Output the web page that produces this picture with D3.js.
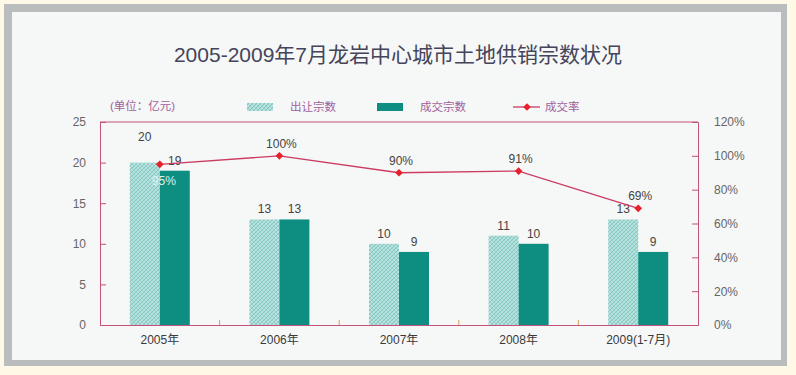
<!DOCTYPE html>
<html>
<head>
<meta charset="utf-8">
<script src="https://cdn.jsdelivr.net/npm/d3@7"></script>
<style>
  body { margin: 0; background: #fdf9e6; }
  svg text { font-family: "Liberation Sans", "Noto Sans CJK SC", sans-serif; }
</style>
</head>
<body>
<svg id="chart" width="796" height="375"></svg>
<script>
// data
var years = ["2005年", "2006年", "2007年", "2008年", "2009(1-7月)"];
var supplied = [20, 13, 10, 11, 13];   // 出让宗数
var sold = [19, 13, 9, 10, 9];         // 成交宗数
var rate = [95, 100, 90, 91, 69];      // 成交率 %
var leftTicks = [0, 5, 10, 15, 20, 25];
var rightTicks = [0, 20, 40, 60, 80, 100, 120];

var svg = d3.select("#chart");
var axisColor = "#c4527c";

// frame
svg.append("rect").attr("x", 4).attr("y", 4).attr("width", 783).attr("height", 362).attr("fill", "#b9bdbd");
svg.append("rect").attr("x", 12).attr("y", 12).attr("width", 769).attr("height", 348).attr("fill", "#f6f7f7");

svg.append("text")
  .attr("x", 398).attr("y", 62)
  .attr("text-anchor", "middle")
  .attr("font-size", 21)
  .attr("fill", "#44445a")
  .text("2005-2009年7月龙岩中心城市土地供销宗数状况");

// hatch pattern for the light bars
var defs = svg.append("defs");
var pat = defs.append("pattern").attr("id", "hatch")
  .attr("width", 4).attr("height", 4).attr("patternUnits", "userSpaceOnUse");
pat.append("rect").attr("width", 4).attr("height", 4).attr("fill", "#b9e2df");
pat.append("path").attr("d", "M0,4 L4,0 M-1,1 L1,-1 M3,5 L5,3").attr("stroke", "#7fc6c1").attr("stroke-width", 1);
pat.append("path").attr("d", "M0,0 L4,4").attr("stroke", "#93d0cb").attr("stroke-width", 0.7);

var pLeft = 100, pRight = 698, pTop = 122, pBottom = 325;

var x = d3.scaleBand().domain(years).range([pLeft, pRight]);
var xs = d3.scaleBand().domain(["supplied", "sold"]).range([0, 60]);
var y = d3.scaleLinear().domain([0, 25]).range([pBottom, pTop]);
var y2 = d3.scaleLinear().domain([0, 120]).range([pBottom, pTop]);

// bars
var g = svg.append("g");
years.forEach(function(yr, i) {
  var cx = x(yr) + x.bandwidth() / 2 - 30;
  g.append("rect")
    .attr("x", cx + xs("supplied")).attr("y", y(supplied[i]))
    .attr("width", xs.bandwidth()).attr("height", pBottom - y(supplied[i]))
    .attr("fill", "url(#hatch)");
  g.append("rect")
    .attr("x", cx + xs("sold")).attr("y", y(sold[i]))
    .attr("width", xs.bandwidth()).attr("height", pBottom - y(sold[i]))
    .attr("fill", "#0e8e80");
  g.append("text")
    .attr("x", cx + xs("supplied") + xs.bandwidth() / 2)
    .attr("y", y(supplied[i]) - (i == 0 ? 22 : 6))
    .attr("text-anchor", "middle").attr("font-size", 12).attr("fill", "#444")
    .text(supplied[i]);
  g.append("text")
    .attr("x", cx + xs("sold") + xs.bandwidth() / 2)
    .attr("y", y(sold[i]) - 6)
    .attr("text-anchor", "middle").attr("font-size", 12).attr("fill", "#444")
    .text(sold[i]);
});

// axes
var axL = svg.append("g").attr("transform", "translate(" + pLeft + ",0)")
  .call(d3.axisLeft(y).tickValues(leftTicks).tickSize(-6).tickPadding(14));
var axR = svg.append("g").attr("transform", "translate(" + pRight + ",0)")
  .call(d3.axisRight(y2).tickValues(rightTicks).tickSize(-6).tickPadding(16).tickFormat(function(d) { return d + "%"; }));
var axB = svg.append("g").attr("transform", "translate(0," + pBottom + ")")
  .call(d3.axisBottom(x).tickSize(0).tickPadding(10));
// tick marks between categories
axB.selectAll(".sep").data(years.slice(1)).enter().append("line")
  .attr("x1", function(d) { return x(d); }).attr("x2", function(d) { return x(d); })
  .attr("y1", 0).attr("y2", -5).attr("stroke", "#d8a060");
svg.append("line").attr("x1", pLeft).attr("x2", pRight).attr("y1", pTop).attr("y2", pTop).attr("stroke", axisColor);

[axL, axR, axB].forEach(function(a) {
  a.select(".domain").attr("stroke", axisColor);
  a.selectAll(".tick line").attr("stroke", axisColor);
  a.selectAll(".tick text").attr("font-size", 12).attr("fill", "#666")
    .attr("font-family", "Liberation Sans, Noto Sans CJK SC, sans-serif");
});
axB.selectAll(".tick text").attr("fill", "#3a3a3a");

// rate line
var cxs = years.map(function(yr) { return x(yr) + x.bandwidth() / 2; });
var line = d3.line().x(function(d, i) { return cxs[i]; }).y(function(d) { return y2(d); });
svg.append("path").datum(rate).attr("d", line)
  .attr("fill", "none").attr("stroke", "#cc3c62").attr("stroke-width", 1.3);
var diamond = d3.symbol().type(d3.symbolSquare).size(30);
svg.selectAll(".pt").data(rate).enter().append("path")
  .attr("d", diamond)
  .attr("transform", function(d, i) { return "translate(" + cxs[i] + "," + y2(d) + ") rotate(45)"; })
  .attr("fill", "#e8202c");
svg.selectAll(".rl").data(rate).enter().append("text")
  .attr("x", function(d, i) { return cxs[i] + (i == 0 ? 4 : 2); })
  .attr("y", function(d, i) { return y2(d) + (i == 0 ? 21 : -8); })
  .attr("text-anchor", "middle").attr("font-size", 12)
  .attr("fill", function(d, i) { return i == 0 ? "#dff0ee" : "#444"; })
  .text(function(d) { return d + "%"; });

// legend
var lg = svg.append("g").attr("font-size", 11.5).attr("fill", "#a0609a");
lg.append("text").attr("x", 110).attr("y", 110).text("(单位：亿元)");
lg.append("rect").attr("x", 247).attr("y", 103).attr("width", 26).attr("height", 8).attr("fill", "url(#hatch)");
lg.append("text").attr("x", 290).attr("y", 111).text("出让宗数");
lg.append("rect").attr("x", 377).attr("y", 103).attr("width", 26).attr("height", 8).attr("fill", "#0e8e80");
lg.append("text").attr("x", 420).attr("y", 111).text("成交宗数");
lg.append("line").attr("x1", 513).attr("x2", 540).attr("y1", 107).attr("y2", 107).attr("stroke", "#cc3c62").attr("stroke-width", 1.3);
lg.append("path").attr("d", diamond).attr("transform", "translate(527,107) rotate(45)").attr("fill", "#e8202c");
lg.append("text").attr("x", 545).attr("y", 111).text("成交率");
</script>
</body>
</html>
